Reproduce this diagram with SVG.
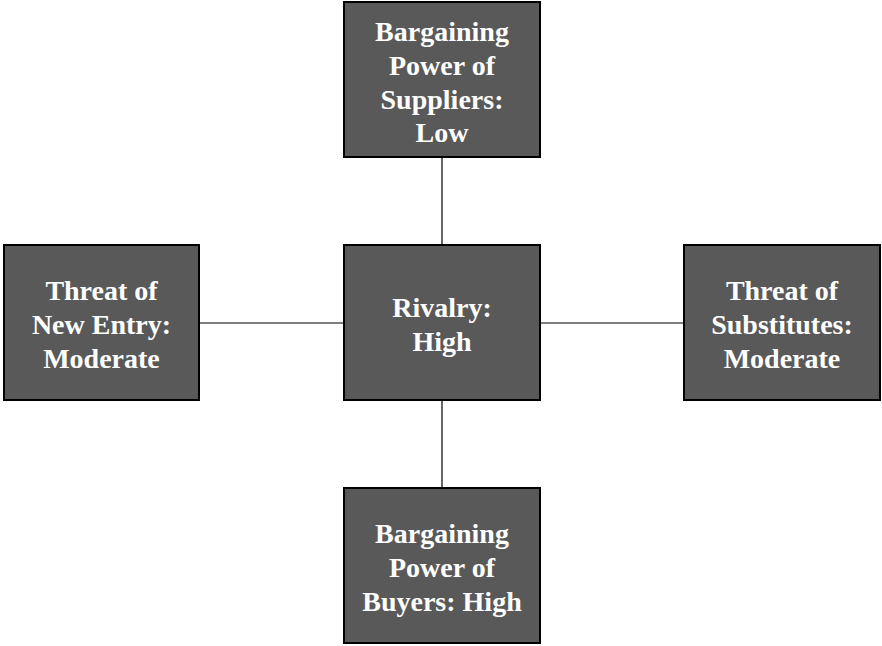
<svg xmlns="http://www.w3.org/2000/svg" width="882" height="646" viewBox="0 0 882 646">
<style>
.box{fill:#595959;stroke:#000;stroke-width:2}
.t{font-family:"Liberation Serif","Times New Roman",serif;font-weight:bold;font-size:28px;fill:#fff;text-anchor:middle}
.c{stroke:#000;stroke-width:1.2;fill:none}
</style>
<rect width="882" height="646" fill="#fff"/>
<g id="connectors">
<line class="c" x1="442" y1="157" x2="442" y2="245"/>
<line class="c" x1="442" y1="400" x2="442" y2="488"/>
<line class="c" x1="199" y1="323" x2="344" y2="323"/>
<line class="c" x1="540" y1="323" x2="684" y2="323"/>
</g>
<g id="suppliers">
<rect class="box" x="344" y="2" width="196" height="155"/>
<text class="t" x="442" y="41">Bargaining</text>
<text class="t" x="442" y="75">Power of</text>
<text class="t" x="442" y="109">Suppliers:</text>
<text class="t" x="442" y="142">Low</text>
</g>
<g id="new-entry">
<rect class="box" x="4" y="245" width="195" height="155"/>
<text class="t" x="101.5" y="300">Threat of</text>
<text class="t" x="101.5" y="334">New Entry:</text>
<text class="t" x="101.5" y="368">Moderate</text>
</g>
<g id="rivalry">
<rect class="box" x="344" y="245" width="196" height="155"/>
<text class="t" x="442" y="317">Rivalry:</text>
<text class="t" x="442" y="351">High</text>
</g>
<g id="substitutes">
<rect class="box" x="684" y="245" width="196" height="155"/>
<text class="t" x="782" y="300">Threat of</text>
<text class="t" x="782" y="334">Substitutes:</text>
<text class="t" x="782" y="368">Moderate</text>
</g>
<g id="buyers">
<rect class="box" x="344" y="488" width="196" height="155"/>
<text class="t" x="442" y="543">Bargaining</text>
<text class="t" x="442" y="577">Power of</text>
<text class="t" x="442" y="611">Buyers: High</text>
</g>
</svg>
